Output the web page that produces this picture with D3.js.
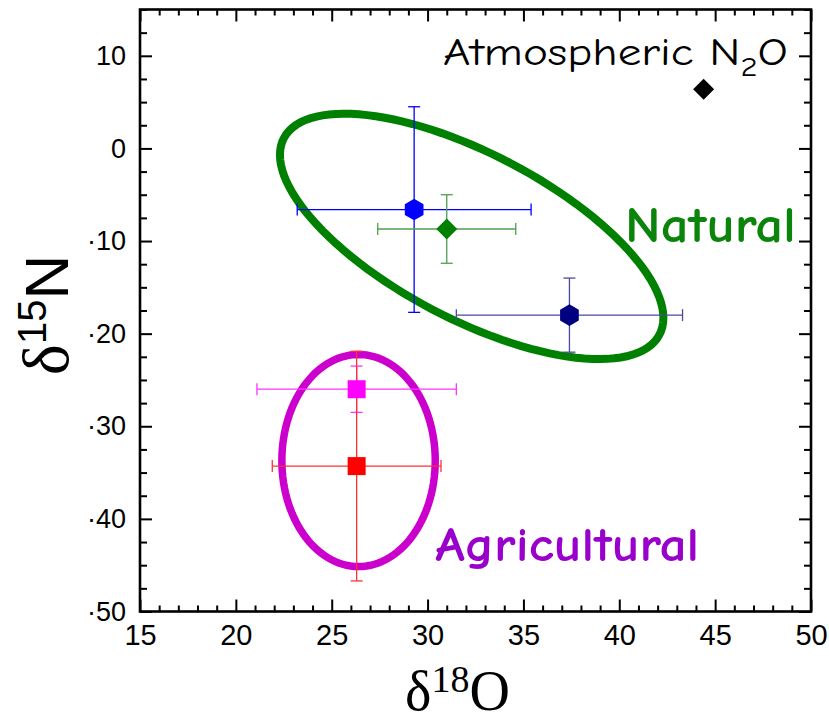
<!DOCTYPE html>
<html>
<head>
  <meta charset="utf-8">
  <title>N2O isotopes</title>
  <script src="https://d3js.org/d3.v7.min.js"></script>
  <style>
    body { margin: 0; background: #fff; }
    .tick text { font-family: "Liberation Sans Narrow", "Liberation Sans", Arial, sans-serif; fill: #000; }
    .xax .tick text { font-size: 29px; }
    .yax .tick text { font-size: 27px; }
  </style>
</head>
<body>
  <div id="chart"></div>

  <script>
    // punti misurati (delta 18O, delta 15N) con errori
    var d18O     = [44.4, 29.3, 31.0, 37.4, 26.3, 26.3];
    var d15N     = [6.4, -6.6, -8.7, -18.0, -26.0, -34.3];
    var d18OErr  = [0, 6.1, 3.6, 5.9, 5.2, 4.4];
    var d15NErr  = [0, 11.1, 3.7, 4.0, 2.5, 12.4];
    var shapes   = ["diamond", "hexagon", "diamond", "hexagon", "square", "square"];
    var fills    = ["#000000", "#0000ff", "#008000", "#000080", "#ff00ff", "#ff0000"];
    var barCols  = ["#000000", "#0000ff", "#4f9f4f", "#4a4aa0", "#ff33ff", "#ff3030"];

    // ellissi: centro e due semiassi coniugati (unita' dei dati)
    var ellNames   = ["Natural", "Agricultural"];
    var ellCenterX = [32.3, 26.4];
    var ellCenterY = [-9.5, -33.7];
    var ellU       = [[10.0, -8.8], [4.0, 0]];
    var ellV       = [[0, 9.9], [0, 11.45]];
    var ellColors  = ["#008000", "#cc00cc"];

    // assi
    var xTicks = [15, 20, 25, 30, 35, 40, 45, 50];
    var yTicks = [-50, -40, -30, -20, -10, 0, 10];

    var width = 829, height = 723;
    var margin = { left: 140, right: 18, top: 9.5, bottom: 111.5 };

    var svg = d3.select("#chart").append("svg")
      .attr("width", width).attr("height", height);

    var x = d3.scaleLinear().domain([15, 50]).range([margin.left, width - margin.right]);
    var y = d3.scaleLinear().domain([-50, 15]).range([height - margin.bottom, margin.top]);

    var x0 = x.range()[0], x1 = x.range()[1], y0 = y.range()[0], y1 = y.range()[1];

    var xMinor = d3.range(15, 50.01, 1).filter(v => xTicks.indexOf(v) < 0);
    var yMinor = d3.range(-50, 15.01, 2.5).filter(v => yTicks.indexOf(v) < 0);

    function fmtY(v) { return v < 0 ? "\u00b7" + Math.abs(v) : String(v); }

    function addAxis(axis, tx, ty, cls) {
      var g = svg.append("g").attr("class", cls || null)
        .attr("transform", "translate(" + tx + "," + ty + ")").call(axis);
      g.select(".domain").remove();
      g.selectAll("line").attr("stroke", "#000").attr("stroke-width", 2);
      g.selectAll("text").attr("font-family", null).attr("font-size", null);
      return g;
    }

    // asse x in basso e in alto
    addAxis(d3.axisBottom(x).tickValues(xTicks).tickSize(-12).tickPadding(13), 0, y0, "xax");
    addAxis(d3.axisBottom(x).tickValues(xMinor).tickSize(-6).tickFormat(""), 0, y0);
    addAxis(d3.axisTop(x).tickValues(xTicks).tickSize(-12).tickFormat(""), 0, y1);
    addAxis(d3.axisTop(x).tickValues(xMinor).tickSize(-6).tickFormat(""), 0, y1);

    // asse y a sinistra e a destra
    addAxis(d3.axisLeft(y).tickValues(yTicks).tickSize(-12).tickPadding(14).tickFormat(fmtY), x0, 0, "yax");
    addAxis(d3.axisLeft(y).tickValues(yMinor).tickSize(-7).tickFormat(""), x0, 0);
    addAxis(d3.axisRight(y).tickValues(yTicks).tickSize(-12).tickFormat(""), x1, 0);
    addAxis(d3.axisRight(y).tickValues(yMinor).tickSize(-7).tickFormat(""), x1, 0);

    // cornice
    svg.append("rect")
      .attr("x", x0).attr("y", y1)
      .attr("width", x1 - x0).attr("height", y0 - y1)
      .attr("fill", "none").attr("stroke", "#000").attr("stroke-width", 2.6);

    // ellissi
    var ts = d3.range(0, 2 * Math.PI, Math.PI / 60);
    var line = d3.line().curve(d3.curveLinearClosed);
    ellNames.forEach(function (name, i) {
      var pts = ts.map(t => [
        x(ellCenterX[i] + ellU[i][0] * Math.cos(t) + ellV[i][0] * Math.sin(t)),
        y(ellCenterY[i] + ellU[i][1] * Math.cos(t) + ellV[i][1] * Math.sin(t))
      ]);
      svg.append("path")
        .attr("d", line(pts))
        .attr("fill", "none")
        .attr("stroke", ellColors[i])
        .attr("stroke-width", i === 0 ? 8 : 7.5);
    });

    // barre d'errore
    var cap = 6;
    var pts = d18O.map((v, i) => i);
    var eb = svg.append("g");
    pts.forEach(function (i) {
      if (!d18OErr[i] && !d15NErr[i]) return;
      var g = eb.append("g").attr("stroke", barCols[i]).attr("stroke-width", 1.3);
      var cx = x(d18O[i]), cy = y(d15N[i]);
      var xl = x(d18O[i] - d18OErr[i]), xr = x(d18O[i] + d18OErr[i]);
      var yt = y(d15N[i] + d15NErr[i]), yb = y(d15N[i] - d15NErr[i]);
      g.append("line").attr("x1", xl).attr("x2", xr).attr("y1", cy).attr("y2", cy);
      g.append("line").attr("x1", cx).attr("x2", cx).attr("y1", yt).attr("y2", yb);
      [xl, xr].forEach(px => g.append("line").attr("x1", px).attr("x2", px).attr("y1", cy - cap).attr("y2", cy + cap));
      [yt, yb].forEach(py => g.append("line").attr("x1", cx - cap).attr("x2", cx + cap).attr("y1", py).attr("y2", py));
    });

    // simboli
    function shapePath(kind) {
      if (kind === "diamond") return "M0,-10.5L10.5,0L0,10.5L-10.5,0Z";
      if (kind === "square") return "M-9,-9H9V9H-9Z";
      var r = 10.8, p = [];
      for (var k = 0; k < 6; k++) {
        var a = Math.PI / 2 + k * Math.PI / 3;
        p.push([r * Math.cos(a), r * Math.sin(a)]);
      }
      return "M" + p.map(q => q[0].toFixed(2) + "," + q[1].toFixed(2)).join("L") + "Z";
    }
    svg.append("g").selectAll("path")
      .data(pts)
      .enter().append("path")
      .attr("transform", i => "translate(" + x(d18O[i]) + "," + y(d15N[i]) + ")")
      .attr("d", i => shapePath(shapes[i]))
      .attr("fill", i => fills[i]);

    // etichette
    var comic = "'Comic Sans MS', 'Comic Neue', 'Open Sans', sans-serif";
    var atm = svg.append("text")
      .attr("x", x(30.8)).attr("y", y(9.0))
      .attr("font-family", comic).attr("font-size", 39).attr("font-weight", 500).attr("fill", "#000")
      .attr("textLength", 345).attr("lengthAdjust", "spacingAndGlyphs");
    atm.append("tspan").text("Atmospheric N");
    atm.append("tspan").attr("font-size", 27).attr("dy", 11).text("2");
    atm.append("tspan").attr("dy", -11).text("O");

    svg.append("text")
      .attr("x", x(40.3)).attr("y", y(-10.1))
      .attr("font-family", comic).attr("font-weight", 800).attr("font-size", 50)
      .attr("fill", "#0a840a")
      .attr("textLength", 171).attr("lengthAdjust", "spacingAndGlyphs")
      .text("Natural");

    svg.append("text")
      .attr("x", x(30.4)).attr("y", y(-44.6))
      .attr("font-family", comic).attr("font-weight", 800).attr("font-size", 48)
      .attr("fill", "#9900cc")
      .attr("textLength", 264).attr("lengthAdjust", "spacingAndGlyphs")
      .text("Agricultural");

    // titoli degli assi
    var xt = svg.append("text")
      .attr("x", (x0 + x1) / 2 - 18).attr("y", 710)
      .attr("text-anchor", "middle")
      .attr("font-family", "'Liberation Serif', 'Times New Roman', serif")
      .attr("font-size", 56).attr("fill", "#000");
    xt.append("tspan").text("\u03b4");
    xt.append("tspan").attr("font-size", 38).attr("dy", -18).text("18");
    xt.append("tspan").attr("dy", 18).text("O");

    var yt = svg.append("text")
      .attr("transform", "translate(68," + 315 + ") rotate(-90)")
      .attr("text-anchor", "middle")
      .attr("font-size", 62).attr("fill", "#000");
    yt.append("tspan").attr("font-family", "'Liberation Serif', serif").attr("font-size", 66).text("\u03b4");
    yt.append("tspan").attr("font-family", "'Liberation Sans', sans-serif").attr("font-size", 40).attr("dy", -22).text("15");
    yt.append("tspan").attr("font-family", "'Liberation Sans Narrow', 'Liberation Sans', sans-serif").attr("dy", 22).text("N");
  </script>
</body>
</html>
